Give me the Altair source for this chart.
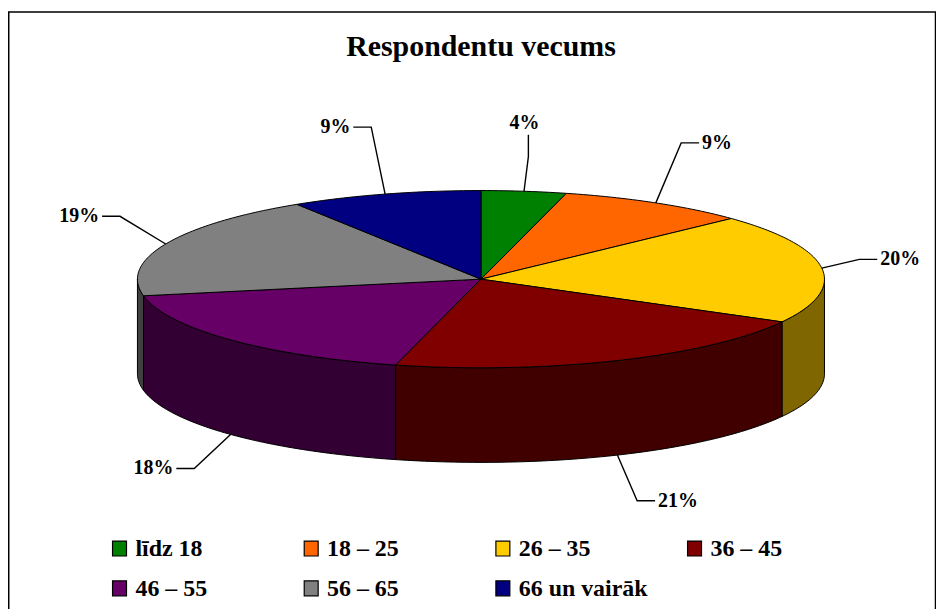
import math
import altair as alt
import pandas as pd

# ---- data ----
categories = ["līdz 18", "18 – 25", "26 – 35", "36 – 45", "46 – 55", "56 – 65", "66 un vairāk"]
values = [4, 9, 20, 21, 18, 19, 9]
top_colors = ["#008000", "#FF6600", "#FFCC00", "#800000", "#660066", "#808080", "#000080"]
side_colors = ["#004000", "#803300", "#806600", "#400000", "#330033", "#404040", "#000040"]
title_text = "Respondentu vecums"

# ---- layout (page pixel space) ----
W, H = 932, 620
X0, Y0 = 8, 10
CX, CY = 483, 279
A, B = 345, 89
DEPTH = 95
FONT = "Liberation Serif"
LABEL_MAX_LEFT = 884


def edge(t_deg, down=0.0):
    t = math.radians(t_deg)
    return CX + A * math.sin(t), CY - B * math.cos(t) + down


total = sum(values)
starts, ends = [], []
acc = 0
for v in values:
    starts.append(acc / total * 360)
    acc += v
    ends.append(acc / total * 360)

tops, sides = [], []
for i, (t0, t1) in enumerate(zip(starts, ends)):
    pts = [(CX, CY)]
    n = max(2, int((t1 - t0) / 1.0) + 1)
    for k in range(n + 1):
        pts.append(edge(t0 + (t1 - t0) * k / n))
    pts.append((CX, CY))
    for j, (x, y) in enumerate(pts):
        tops.append({"piece": f"t{i}", "x": x, "y": y, "o": j, "c": top_colors[i]})
    s0, s1 = max(t0, 90), min(t1, 270)
    if s1 > s0:
        n = max(2, int((s1 - s0) / 1.0) + 1)
        arc = [s0 + (s1 - s0) * k / n for k in range(n + 1)]
        spts = [edge(t) for t in arc] + [edge(t, DEPTH) for t in reversed(arc)]
        spts.append(spts[0])
        for j, (x, y) in enumerate(spts):
            sides.append({"piece": f"s{i}", "x": x, "y": y, "o": j, "c": side_colors[i]})

# leader lines and labels, derived from each slice's mid angle
leaders, labels = [], []
for i, (t0, t1) in enumerate(zip(starts, ends)):
    tm = (t0 + t1) / 2
    s, c = math.sin(math.radians(tm)), math.cos(math.radians(tm))
    front = 90 < tm < 270
    ex, ey = edge(tm, DEPTH if front else 0)
    txt = f"{values[i]}%"
    if abs(s) < 0.2:
        L = 35
        bx, by = ex + L * s, ey - L * c
        sx, sy = bx, (by - 22 if c > 0 else by + 22)
        labels.append({"x": sx - 4, "y": sy - 12 if c > 0 else sy + 12, "t": txt, "al": "center"})
    else:
        L = 50
        vf = 1.0 if front else 1.4
        bx, by = ex + L * s, ey - L * c * vf
        sx = bx + (18 if s > 0 else -18)
        sy = by
        tx = sx + (3 if s > 0 else -3)
        if s > 0 and tx > LABEL_MAX_LEFT:
            shift = tx - LABEL_MAX_LEFT
            tx -= shift
            sx -= shift
            bx -= shift
        labels.append({"x": tx, "y": sy, "t": txt, "al": "left" if s > 0 else "right"})
    pts = [(ex, ey), (bx, by), (sx, sy)]
    for j, (x, y) in enumerate(pts):
        leaders.append({"piece": f"l{i}", "x": x, "y": y, "o": j})

legend_rows = []
for i, cat in enumerate(categories):
    col, row = i % 4, i // 4
    lx = 113 + 192.5 * col
    ly = 542 + 40 * row
    legend_rows.append({"x": lx, "x2": lx + 14, "y": ly, "y2": ly + 15,
                        "tx": lx + 23, "ty": ly + 8, "t": cat, "c": top_colors[i]})

xs = alt.Scale(domain=[X0, X0 + W], nice=False, zero=False)
ys = alt.Scale(domain=[Y0, Y0 + H], nice=False, zero=False, reverse=True)
X = alt.X("x:Q", scale=xs, axis=None)
Y = alt.Y("y:Q", scale=ys, axis=None)

frame = alt.Chart(pd.DataFrame({"x": [8.75], "x2": [939.5], "y": [10.75], "y2": [700]})).mark_rect(
    fill="white", stroke="black", strokeWidth=1.5).encode(x=X, x2="x2:Q", y=Y, y2="y2:Q")

side_layer = alt.Chart(pd.DataFrame(sides)).mark_line(stroke="black", strokeWidth=1).encode(
    x=X, y=Y, detail="piece:N", order="o:Q", fill=alt.Fill("c:N", scale=None))
top_layer = alt.Chart(pd.DataFrame(tops)).mark_line(stroke="black", strokeWidth=1).encode(
    x=X, y=Y, detail="piece:N", order="o:Q", fill=alt.Fill("c:N", scale=None))
leader_layer = alt.Chart(pd.DataFrame(leaders)).mark_line(color="black", strokeWidth=1.4).encode(
    x=X, y=Y, detail="piece:N", order="o:Q")

lab_df = pd.DataFrame(labels)
label_layers = []
for al in ["left", "right", "center"]:
    sub = lab_df[lab_df["al"] == al]
    if len(sub):
        label_layers.append(alt.Chart(sub).mark_text(
            align=al, baseline="middle", font=FONT, fontSize=20, fontWeight="bold", color="black"
        ).encode(x=X, y=Y, text="t:N"))

leg_df = pd.DataFrame(legend_rows)
leg_sq = alt.Chart(leg_df).mark_rect(stroke="black", strokeWidth=1.2).encode(
    x=X, x2="x2:Q", y=Y, y2="y2:Q", fill=alt.Fill("c:N", scale=None))
leg_tx = alt.Chart(leg_df).mark_text(
    align="left", baseline="middle", font=FONT, fontSize=24, fontWeight="bold", color="black"
).encode(x=alt.X("tx:Q", scale=xs, axis=None), y=alt.Y("ty:Q", scale=ys, axis=None), text="t:N")

title_layer = alt.Chart(pd.DataFrame({"x": [CX], "y": [55], "t": [title_text]})).mark_text(
    align="center", baseline="alphabetic", font=FONT, fontSize=30, fontWeight="bold", color="black"
).encode(x=X, y=Y, text="t:N")

chart = alt.layer(frame, side_layer, top_layer, leader_layer, *label_layers, leg_sq, leg_tx, title_layer).properties(
    width=W, height=H, autosize=alt.AutoSizeParams(type="none"),
    padding={"top": 2, "left": 0, "right": 0, "bottom": 0},
    background="white",
).configure_view(stroke=None)

chart.save("out.html", embed_options={"renderer": "svg", "actions": False})
